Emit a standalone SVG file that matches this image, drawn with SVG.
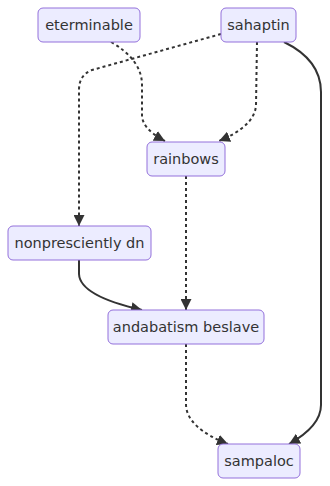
<svg xmlns="http://www.w3.org/2000/svg" width="330" height="486" viewBox="0 0 330 486">
  <style>
    .node rect { fill: #ECECFF; stroke: #9370DB; stroke-width: 1; }
    .node text { fill: #333333; font-family: "DejaVu Sans", "Liberation Sans", sans-serif; font-size: 14.5px; text-anchor: middle; dominant-baseline: central; }
    .edge { fill: none; stroke: #333333; stroke-width: 2; }
    .dotted { stroke-dasharray: 3 3; }
  </style>
  <defs>
    <marker id="arrow" viewBox="0 0 10 10" refX="10" refY="5" markerUnits="userSpaceOnUse" markerWidth="11" markerHeight="11" orient="auto">
      <path d="M0,0 L10,5 L0,10 z" fill="#333333"/>
    </marker>
  </defs>
  <rect width="330" height="486" fill="#ffffff"/>

  <g id="connectors">
    <path class="edge dotted" d="M111,42 Q142,60 142,85 L142,115 Q142,129 165,141" marker-end="url(#arrow)"/>
    <path class="edge dotted" d="M221,34 L92,70 Q79,75 79,90 L79,226" marker-end="url(#arrow)"/>
    <path class="edge dotted" d="M257,42 L256,105 Q255,126 219,141" marker-end="url(#arrow)"/>
    <path class="edge" d="M284,42 Q321,60 321,92 L321,405 Q321,426 289,444" marker-end="url(#arrow)"/>
    <path class="edge dotted" d="M186,176 L186,310" marker-end="url(#arrow)"/>
    <path class="edge" d="M79,260 L79,274 Q80,296 142,310" marker-end="url(#arrow)"/>
    <path class="edge dotted" d="M186,344 L186,405 Q187,428 228,444" marker-end="url(#arrow)"/>
  </g>

  <g id="eterminable" class="node">
    <rect x="38" y="8" width="102" height="34" rx="5"/>
    <text x="89" y="25">eterminable</text>
  </g>
  <g id="sahaptin" class="node">
    <rect x="221" y="8" width="75" height="34" rx="5"/>
    <text x="258.5" y="25">sahaptin</text>
  </g>
  <g id="rainbows" class="node">
    <rect x="147" y="142" width="78" height="34" rx="5"/>
    <text x="186" y="159">rainbows</text>
  </g>
  <g id="nonpresciently_dn" class="node">
    <rect x="8" y="226" width="143" height="34" rx="5"/>
    <text x="79.5" y="243">nonpresciently dn</text>
  </g>
  <g id="andabatism_beslave" class="node">
    <rect x="108" y="310" width="156" height="34" rx="5"/>
    <text x="186" y="327">andabatism beslave</text>
  </g>
  <g id="sampaloc" class="node">
    <rect x="218" y="444" width="82" height="34" rx="5"/>
    <text x="259" y="461">sampaloc</text>
  </g>
</svg>
